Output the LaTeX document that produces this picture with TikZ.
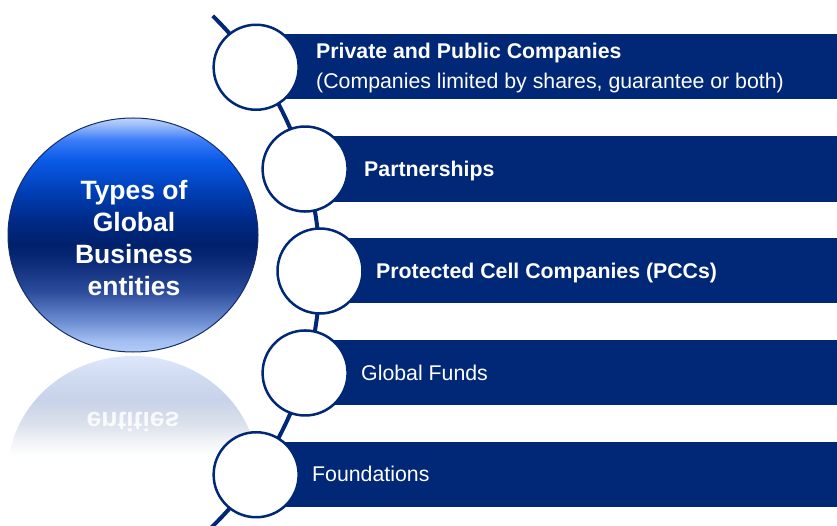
\documentclass[tikz,border=0pt]{standalone}
\usepackage{fontspec}
\setmainfont{Liberation Sans}
\usetikzlibrary{calc,shapes.geometric}
\definecolor{navy}{RGB}{0,40,118}
\definecolor{orbedge}{RGB}{20,45,105}
\definecolor{o1}{HTML}{B4CCF5}
\definecolor{o2}{HTML}{A0BCF0}
\definecolor{o3}{HTML}{6A8AD0}
\definecolor{o4}{HTML}{2A4A9A}
\definecolor{o5}{HTML}{0A2A78}
\definecolor{o6}{HTML}{00206A}
\definecolor{o7}{HTML}{002A88}
\definecolor{o8}{HTML}{0040B8}
\definecolor{o9}{HTML}{0A5AE8}
\definecolor{o10}{HTML}{3A7CF8}
\definecolor{o11}{HTML}{9CBCF8}
\definecolor{o12}{HTML}{C0D4FF}
\definecolor{r1}{HTML}{DDE7FB}
\definecolor{r2}{HTML}{D0DCF2}
\definecolor{r3}{HTML}{C8D2E8}
\definecolor{r4}{HTML}{DCE2EC}
\definecolor{r5}{HTML}{F3F5F8}
\pgfdeclareverticalshading{orbsh}{100bp}{color(0bp)=(o1); color(25bp)=(o1); color(27.6bp)=(o2); color(31.8bp)=(o3); color(38.2bp)=(o4); color(44.6bp)=(o5); color(47.9bp)=(o6); color(53.2bp)=(o7); color(59.6bp)=(o8); color(66bp)=(o9); color(70.3bp)=(o10); color(73.5bp)=(o11); color(75bp)=(o12); color(100bp)=(o12)}
\pgfdeclareverticalshading{reflsh}{100bp}{color(0bp)=(white); color(31bp)=(white); color(37bp)=(r5); color(44.7bp)=(r4); color(55.7bp)=(r3); color(66.7bp)=(r2); color(74.1bp)=(r1); color(100bp)=(r1)}
\tikzset{
  bub/.style={circle, draw=navy, line width=2.5pt, fill=white, minimum size=85pt, inner sep=0pt},
  spine/.style={draw=navy, line width=4pt},
  barfill/.style={fill=navy},
  bartext/.style={anchor=base west, inner sep=0pt, text=white, font=\fontsize{21.3}{30}\selectfont},
  boldbartext/.style={bartext, font=\bfseries\fontsize{21.3}{30}\selectfont},
  orb/.style={ellipse, shading=orbsh, draw=orbedge, line width=1pt, minimum width=250pt, minimum height=234pt, inner sep=0pt},
  orbtext/.style={text=white, align=center, font=\bfseries\fontsize{26.5}{32}\selectfont},
}
\begin{document}
\begin{tikzpicture}[x=1pt,y=1pt]
\useasboundingbox (0,0) rectangle (837,525);
\coordinate (O) at (-37,254);
% reflection
\begin{scope}
  \clip (133,52) ellipse [x radius=125, y radius=117];
  \shade[shading=reflsh] (8,55) rectangle (258,169);
\end{scope}
\node[text=white, opacity=0.85, font=\bfseries\fontsize{26.5}{32}\selectfont] (rt) at (133,103) {\scalebox{1}[-1]{entities}};
% orb
\node[orb] (orb) at (133,290) {};
\node[orbtext] (ot) at (134,287) {Types of\\Global\\Business\\entities};
% circle positions
\coordinate (p1) at ($(O)+(34.8:357)$);
\coordinate (p2) at ($(O)+(16.6:357)$);
\coordinate (p3) at ($(O)+(0:357)$);
\coordinate (p4) at ($(O)+(-16.6:357)$);
\coordinate (p5) at ($(O)+(-34.8:357)$);
% bars
\fill[barfill] (p1 |- 0,491) rectangle (837,426);
\fill[barfill] (p2 |- 0,389) rectangle (837,323);
\fill[barfill] (p3 |- 0,287) rectangle (837,222);
\fill[barfill] (p4 |- 0,185) rectangle (837,120);
\fill[barfill] (p5 |- 0,83) rectangle (837,18);
% spine
\coordinate (sT) at ($(O)+(45.6:357)$);
\draw[spine] (sT) arc[start angle=45.6, end angle=-46, radius=357];
% circles
\node[bub] (c1) at (p1) {};
\node[bub] (c2) at (p2) {};
\node[bub] (c3) at (p3) {};
\node[bub] (c4) at (p4) {};
\node[bub] (c5) at (p5) {};
% texts
\node[boldbartext] (t1) at (316,466.5) {Private and Public Companies};
\node[bartext] (t1b) at (316,436.5) {(Companies limited by shares, guarantee or both)};
\node[boldbartext] (t2) at (364,348.5) {Partnerships};
\node[boldbartext] (t3) at (376,246.5) {Protected Cell Companies (PCCs)};
\node[bartext] (t4) at (361,144.5) {Global Funds};
\node[bartext] (t5) at (312,43.5) {Foundations};
\end{tikzpicture}
\end{document}
